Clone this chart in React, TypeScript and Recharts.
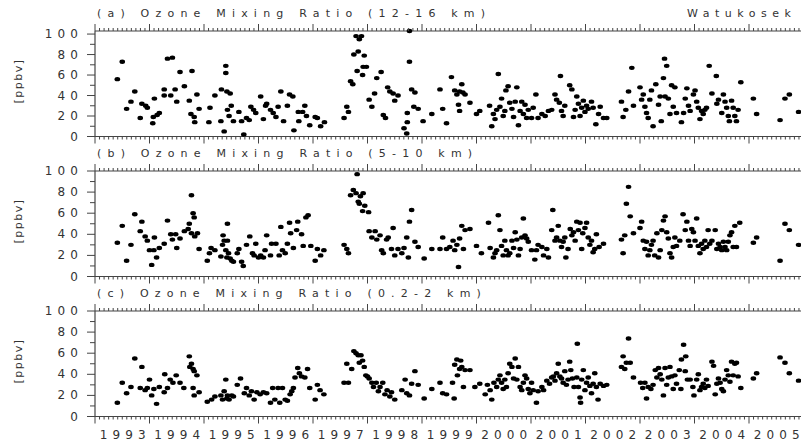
import React from 'react';
import { ScatterChart, Scatter, XAxis, YAxis } from 'recharts';

// ---------- data ----------
const yearLabels = ['1993','1994','1995','1996','1997','1998','1999','2000','2001','2002','2003','2004','2005'];
const yTicks = [0, 10, 20, 30, 40, 50, 60, 70, 80, 90, 100];
const panelTitles = ['(a) Ozone Mixing Ratio (12-16 km)', '(b) Ozone Mixing Ratio (5-10 km)', '(c) Ozone Mixing Ratio (0.2-2 km)'];
const stationName = 'Watukosek';
const unitLabel = '[ppbv]';

// [decimal year, ozone ppbv]
const ozone12to16: [number, number][] = [
  [1993.41,56],[1993.50,73],[1993.58,27],[1993.66,34],[1993.73,44],[1993.83,18],[1993.86,32],[1993.93,30],[1993.96,28],
  [1994.06,13],[1994.07,19],[1994.09,37],[1994.14,21],[1994.18,23],[1994.27,46],[1994.27,40],[1994.33,76],[1994.39,40],
  [1994.42,77],[1994.47,46],[1994.50,34],[1994.56,63],[1994.64,49],[1994.73,35],[1994.76,22],[1994.78,64],[1994.82,19],
  [1994.83,14],[1994.87,41],[1994.91,27],[1995.09,14],[1995.11,28],[1995.20,40],[1995.32,46],[1995.31,15],[1995.37,5],
  [1995.40,69],[1995.40,62],[1995.42,44],[1995.43,26],[1995.46,20],[1995.48,42],[1995.50,30],[1995.54,15],[1995.64,24],
  [1995.69,15],[1995.73,2],[1995.78,18],[1995.83,16],[1995.86,29],[1995.91,26],[1995.95,23],[1996.04,39],[1996.09,17],
  [1996.13,30],[1996.15,32],[1996.22,26],[1996.27,23],[1996.32,19],[1996.36,29],[1996.41,44],[1996.46,15],[1996.53,30],
  [1996.57,41],[1996.63,39],[1996.65,6],[1996.73,24],[1996.74,15],[1996.81,24],[1996.85,30],[1996.88,20],[1996.94,11],
  [1997.04,19],[1997.08,18],[1997.14,10],[1997.21,14],[1997.57,18],[1997.62,29],[1997.65,24],[1997.69,54],[1997.73,51],
  [1997.75,80],[1997.79,98],[1997.83,83],[1997.81,64],[1997.85,95],[1997.89,98],[1997.91,60],[1997.92,68],[1997.94,79],
  [1997.98,68],[1998.03,36],[1998.08,29],[1998.13,42],[1998.17,57],[1998.25,63],[1998.29,21],[1998.33,18],[1998.37,48],
  [1998.41,44],[1998.47,42],[1998.50,35],[1998.56,40],
  [1998.77,103],[1998.77,73],[1998.67,8],[1998.72,3],[1998.73,14],[1998.73,23],[1998.81,46],[1998.87,43],[1998.85,29],
  [1998.93,27],[1999.02,15],[1999.18,22],[1999.33,46],[1999.38,27],[1999.45,13],[1999.54,58],[1999.60,45],[1999.64,41],
  [1999.69,44],[1999.73,51],[1999.75,43],[1999.79,41],[1999.67,31],[1999.69,25],[1999.88,33],[2000.00,22],[2000.06,25],
  [2000.24,30],[2000.28,10],[2000.31,22],[2000.34,17],[2000.37,26],[2000.40,61],[2000.43,29],[2000.46,37],[2000.49,20],
  [2000.52,25],[2000.54,45],[2000.58,49],[2000.61,33],[2000.65,27],[2000.68,19],[2000.71,34],[2000.74,48],[2000.77,11],
  [2000.80,25],[2000.83,34],[2000.86,22],[2000.89,31],[2000.92,18],[2000.95,26],[2001.01,18],[2001.04,28],[2001.09,41],
  [2001.13,18],[2001.20,22],[2001.26,20],[2001.32,25],[2001.38,26],[2001.44,41],[2001.47,36],[2001.52,33],[2001.54,59],
  [2001.56,25],[2001.59,20],[2001.62,30],[2001.71,50],[2001.75,46],[2001.78,19],[2001.81,26],[2001.84,39],[2001.87,32],
  [2001.90,20],[2001.93,28],[2001.96,35],[2001.99,24],[2002.02,30],[2002.05,27],[2002.11,34],[2002.14,28],[2002.19,12],
  [2002.24,22],[2002.27,29],[2002.33,18],[2002.39,18],[2002.66,34],[2002.69,19],[2002.74,26],[2002.79,44],[2002.85,67],
  [2002.88,30],[2003.00,48],[2003.03,36],[2003.06,41],[2003.09,29],[2003.12,23],[2003.15,18],[2003.18,36],[2003.21,45],
  [2003.24,10],[2003.29,51],[2003.34,31],[2003.37,39],[2003.39,15],[2003.43,57],[2003.45,76],[2003.49,69],[2003.46,39],
  [2003.52,37],[2003.55,22],[2003.58,50],[2003.61,29],[2003.64,48],[2003.67,23],[2003.76,14],[2003.80,23],[2003.83,37],
  [2003.86,47],[2003.89,30],[2003.92,25],[2003.98,41],[2004.01,45],[2004.04,34],[2004.07,28],[2004.10,17],[2004.13,25],
  [2004.16,22],[2004.19,26],[2004.22,28],[2004.27,69],[2004.32,42],[2004.40,59],[2004.41,32],[2004.44,36],[2004.50,23],
  [2004.53,41],[2004.56,34],[2004.59,28],[2004.62,20],[2004.64,15],[2004.68,35],[2004.71,28],[2004.74,20],[2004.77,15],
  [2004.80,26],[2004.85,53],[2005.08,37],[2005.14,22],[2005.57,16],[2005.66,37],[2005.74,41],[2005.91,24],
];

const ozone5to10: [number, number][] = [
  [1993.41,32],[1993.50,48],[1993.58,15],[1993.66,30],[1993.73,59],[1993.83,43],[1993.86,52],[1993.92,38],[1993.96,34],
  [1994.00,25],[1994.04,11],[1994.08,25],[1994.09,37],[1994.13,18],[1994.18,27],[1994.27,31],[1994.33,53],[1994.39,40],
  [1994.42,35],[1994.48,40],[1994.50,27],[1994.56,36],[1994.64,43],[1994.71,45],[1994.73,50],[1994.77,77],[1994.80,60],
  [1994.82,56],[1994.77,41],[1994.83,38],[1994.88,41],[1994.91,26],[1995.06,15],[1995.10,22],[1995.13,27],[1995.20,25],
  [1995.31,19],[1995.34,30],[1995.35,39],[1995.37,34],[1995.40,25],[1995.42,18],[1995.43,50],[1995.45,22],[1995.43,34],
  [1995.48,17],[1995.51,15],[1995.54,14],[1995.61,22],[1995.64,26],[1995.69,14],[1995.72,10],[1995.78,30],[1995.84,38],
  [1995.89,22],[1995.92,20],[1995.95,31],[1996.00,18],[1996.04,20],[1996.09,18],[1996.12,25],[1996.15,39],[1996.22,20],
  [1996.24,31],[1996.32,31],[1996.38,20],[1996.41,47],[1996.44,25],[1996.49,22],[1996.53,31],[1996.57,51],[1996.59,41],
  [1996.64,27],[1996.70,44],[1996.72,52],[1996.79,40],[1996.82,29],[1996.87,56],[1996.91,58],[1996.96,29],[1997.04,15],
  [1997.08,26],[1997.14,20],[1997.20,25],[1997.57,30],[1997.62,26],[1997.65,22],[1997.69,77],[1997.74,82],[1997.79,79],
  [1997.81,97],[1997.83,71],[1997.85,69],[1997.87,76],[1997.91,62],[1997.92,79],[1997.95,67],[1998.02,61],[1998.03,43],
  [1998.08,37],[1998.14,43],[1998.17,35],[1998.23,39],[1998.26,25],[1998.29,22],[1998.35,35],[1998.38,37],[1998.44,26],
  [1998.47,46],[1998.50,20],[1998.56,26],
  [1998.63,22],[1998.67,27],[1998.72,37],[1998.77,52],[1998.81,63],[1998.75,18],[1998.87,33],[1998.93,28],[1999.04,17],
  [1999.18,26],[1999.33,26],[1999.38,37],[1999.45,26],[1999.51,28],[1999.57,34],[1999.60,25],[1999.64,30],[1999.67,9],
  [1999.69,36],[1999.73,48],[1999.76,26],[1999.79,44],[1999.88,45],[2000.00,29],[2000.09,22],[2000.22,51],[2000.25,27],
  [2000.31,18],[2000.34,22],[2000.37,25],[2000.40,58],[2000.43,44],[2000.46,29],[2000.49,20],[2000.52,34],[2000.55,25],
  [2000.58,20],[2000.61,22],[2000.65,34],[2000.68,27],[2000.71,42],[2000.74,35],[2000.77,20],[2000.80,26],[2000.83,37],
  [2000.86,55],[2000.89,39],[2000.92,36],[2000.95,33],[2001.01,25],[2001.07,16],[2001.10,25],[2001.13,30],[2001.20,28],
  [2001.23,20],[2001.29,26],[2001.32,18],[2001.38,44],[2001.40,63],[2001.44,34],[2001.47,37],[2001.50,48],[2001.53,34],
  [2001.56,28],[2001.59,33],[2001.62,37],[2001.64,18],[2001.68,26],[2001.72,45],[2001.75,39],[2001.78,42],[2001.81,34],
  [2001.84,52],[2001.87,44],[2001.90,51],[2001.93,26],[2001.95,41],[2001.99,46],[2002.02,51],[2002.05,37],[2002.08,30],
  [2002.11,34],[2002.14,23],[2002.17,26],[2002.20,40],[2002.25,28],[2002.33,31],[2002.66,35],[2002.69,22],[2002.72,39],
  [2002.75,69],[2002.79,85],[2002.82,57],[2002.88,41],[2003.00,46],[2003.03,52],[2003.06,34],[2003.09,26],[2003.12,33],
  [2003.15,20],[2003.18,25],[2003.21,30],[2003.24,34],[2003.27,20],[2003.31,41],[2003.34,18],[2003.37,25],[2003.40,44],
  [2003.43,53],[2003.46,57],[2003.49,42],[2003.52,36],[2003.55,22],[2003.58,18],[2003.61,28],[2003.64,37],[2003.67,29],
  [2003.73,34],[2003.79,59],[2003.83,44],[2003.86,52],[2003.89,34],[2003.92,29],[2003.95,45],[2003.98,42],[2004.01,34],
  [2004.04,55],[2004.07,29],[2004.10,22],[2004.13,31],[2004.16,26],[2004.19,34],[2004.22,28],[2004.25,44],[2004.28,31],
  [2004.32,34],[2004.38,44],[2004.41,26],[2004.44,31],[2004.47,28],[2004.50,25],[2004.53,33],[2004.56,28],[2004.59,25],
  [2004.62,33],[2004.65,39],[2004.68,42],[2004.71,28],[2004.74,48],[2004.77,28],[2004.83,51],[2005.08,32],[2005.14,37],
  [2005.57,15],[2005.66,50],[2005.74,44],[2005.91,30],
];

const ozone02to2: [number, number][] = [
  [1993.41,13],[1993.50,32],[1993.58,22],[1993.66,28],[1993.73,55],[1993.83,27],[1993.86,47],[1993.92,25],[1993.96,27],
  [1994.00,35],[1994.04,20],[1994.08,26],[1994.13,12],[1994.18,28],[1994.27,23],[1994.28,40],[1994.33,27],[1994.38,35],
  [1994.43,32],[1994.49,39],[1994.56,32],[1994.63,27],[1994.73,57],[1994.74,47],[1994.77,50],[1994.80,45],[1994.82,43],
  [1994.87,39],[1994.80,27],[1994.82,20],[1994.91,23],[1995.06,14],[1995.14,16],[1995.20,19],[1995.31,20],[1995.34,16],
  [1995.37,24],[1995.40,35],[1995.42,17],[1995.43,20],[1995.46,16],[1995.51,20],[1995.54,19],[1995.61,30],[1995.67,36],
  [1995.74,22],[1995.78,27],[1995.83,20],[1995.87,24],[1995.92,16],[1995.97,23],[1996.03,21],[1996.09,23],[1996.15,22],
  [1996.22,13],[1996.26,27],[1996.30,16],[1996.36,27],[1996.39,13],[1996.44,27],[1996.49,16],[1996.53,15],[1996.58,21],
  [1996.61,24],[1996.64,27],[1996.67,37],[1996.72,46],[1996.75,41],[1996.79,38],[1996.85,37],[1996.90,45],[1996.94,27],
  [1997.04,16],[1997.08,30],[1997.13,25],[1997.20,21],[1997.57,32],[1997.62,50],[1997.65,32],[1997.71,45],[1997.75,62],
  [1997.79,60],[1997.83,58],[1997.85,51],[1997.88,58],[1997.91,53],[1997.94,47],[1997.97,39],[1998.00,38],[1998.03,36],
  [1998.08,32],[1998.11,28],[1998.16,32],[1998.20,24],[1998.23,28],[1998.28,32],[1998.32,21],[1998.36,25],[1998.41,19],
  [1998.44,23],[1998.50,16],
  [1998.63,25],[1998.69,35],[1998.72,22],[1998.77,20],[1998.81,31],[1998.87,43],[1998.93,30],[1999.04,17],[1999.18,26],
  [1999.33,32],[1999.38,22],[1999.45,21],[1999.56,32],[1999.59,17],[1999.60,49],[1999.64,54],[1999.65,39],[1999.69,45],
  [1999.71,53],[1999.73,47],[1999.76,28],[1999.79,44],[1999.88,44],[1999.97,28],[2000.06,31],[2000.16,21],[2000.20,30],
  [2000.25,25],[2000.28,16],[2000.32,32],[2000.37,28],[2000.40,35],[2000.43,39],[2000.46,32],[2000.49,26],[2000.52,35],
  [2000.55,28],[2000.58,41],[2000.61,50],[2000.65,47],[2000.68,36],[2000.71,55],[2000.74,35],[2000.77,47],[2000.80,28],
  [2000.83,25],[2000.86,32],[2000.89,39],[2000.92,36],[2000.95,26],[2000.98,22],[2001.01,32],[2001.04,25],[2001.10,13],
  [2001.13,24],[2001.20,28],[2001.23,25],[2001.29,34],[2001.34,31],[2001.38,37],[2001.41,38],[2001.44,34],[2001.47,41],
  [2001.50,50],[2001.53,38],[2001.56,36],[2001.59,32],[2001.62,43],[2001.65,30],[2001.68,35],[2001.71,52],[2001.73,44],
  [2001.76,36],[2001.79,28],[2001.84,37],[2001.85,69],[2001.87,28],[2001.90,18],[2001.91,13],[2001.93,35],[2001.96,44],
  [2001.99,25],[2002.02,32],[2002.05,37],[2002.08,29],[2002.11,22],[2002.14,31],[2002.17,41],[2002.20,28],[2002.23,16],
  [2002.27,31],[2002.33,29],[2002.39,30],[2002.66,47],[2002.69,57],[2002.72,45],[2002.75,51],[2002.79,74],[2002.82,51],
  [2002.88,37],[2003.01,32],[2003.05,27],[2003.09,32],[2003.12,17],[2003.15,28],[2003.20,26],[2003.24,30],[2003.28,44],
  [2003.31,37],[2003.34,46],[2003.37,40],[2003.40,35],[2003.43,20],[2003.46,46],[2003.49,30],[2003.52,37],[2003.55,47],
  [2003.58,38],[2003.61,26],[2003.64,39],[2003.67,31],[2003.72,44],[2003.75,26],[2003.76,54],[2003.80,68],[2003.83,43],
  [2003.84,57],[2003.87,35],[2003.92,35],[2003.97,28],[2003.99,20],[2004.04,35],[2004.07,40],[2004.10,25],[2004.13,28],
  [2004.16,31],[2004.19,27],[2004.22,35],[2004.25,29],[2004.32,52],[2004.35,48],[2004.38,21],[2004.41,31],[2004.44,36],
  [2004.47,32],[2004.50,26],[2004.53,24],[2004.56,35],[2004.59,44],[2004.62,39],[2004.65,33],[2004.68,52],[2004.71,39],
  [2004.74,50],[2004.77,51],[2004.80,38],[2004.85,27],[2005.08,36],[2005.14,41],[2005.57,56],[2005.66,51],[2005.74,41],
  [2005.91,34],
];

const panelSeries = [ozone12to16, ozone5to10, ozone02to2];

// ---------- layout ----------
const START_YEAR = 1993;
const END_YEAR = 2006;
const monthTicks = Array.from({ length: (END_YEAR - START_YEAR) * 12 + 1 }, (_, i) => START_YEAR + i / 12);
const PLOT_TOPS = [31, 171, 311];
const PLOT_H = 105.5;
const TOP_AXIS_H = 20;
const BOTTOM_AXIS_H = 30;
const CHART_W = 810;
const FONT = '"DejaVu Sans", sans-serif';
const INK = '#333';
const AXIS = '#444';
const LS = 5.2;

const makeXTick = (side: 'top' | 'bottom', showLabels: boolean) => (props: any) => {
  const { x, y, payload } = props;
  const m = Math.round((payload.value - START_YEAR) * 12);
  const major = m % 12 === 0;
  const len = major ? 7 : 3;
  const dir = side === 'top' ? -1 : 1;
  const label = showLabels && m % 12 === 6 ? yearLabels[Math.floor(m / 12)] : null;
  return (
    <g>
      <line x1={x} x2={x} y1={y} y2={y + dir * len} stroke={AXIS} strokeWidth={1} />
      {label && (
        <text x={x + 0.5} y={y + 18} textAnchor="middle" dominantBaseline="central"
          fontSize={12} fill={INK} textLength={46} lengthAdjust="spacing" style={{ fontFamily: FONT }}>
          {label}
        </text>
      )}
    </g>
  );
};

const YTick = (props: any) => {
  const { x, y, payload } = props;
  const v = payload.value;
  const major = v % 20 === 0;
  return (
    <g>
      <line x1={x} x2={x - (major ? 8 : 5)} y1={y} y2={y} stroke={AXIS} strokeWidth={1} />
      {major && (
        <text x={x - 17 + LS} y={y} textAnchor="end" dominantBaseline="central"
          fontSize={12} fill={INK} style={{ letterSpacing: `${LS}px`, fontFamily: FONT }}>
          {v}
        </text>
      )}
    </g>
  );
};

const Dot = (props: any) => {
  const { cx, cy } = props;
  if (cx == null || cy == null) return null;
  return <ellipse cx={cx} cy={cy} rx={2.8} ry={2.2} fill="#000" />;
};

function Panel({ idx }: { idx: number }) {
  const data = panelSeries[idx].map(([t, v]) => ({ t, v }));
  const isLast = idx === 2;
  const top = PLOT_TOPS[idx] - TOP_AXIS_H;
  return (
    <div style={{ position: 'absolute', left: 0, top }}>
      <ScatterChart width={CHART_W} height={TOP_AXIS_H + PLOT_H + BOTTOM_AXIS_H}
        margin={{ top: 0, right: CHART_W - 95 - 708.5, bottom: 0, left: 0 }}>
        <XAxis xAxisId="bottom" dataKey="t" type="number" domain={[START_YEAR, END_YEAR]} ticks={monthTicks}
          interval={0} orientation="bottom" height={BOTTOM_AXIS_H} tickSize={0} tickMargin={0}
          tick={makeXTick('bottom', isLast)} axisLine={{ stroke: AXIS, strokeWidth: 1.2 }} allowDataOverflow />
        <XAxis xAxisId="top" dataKey="t" type="number" domain={[START_YEAR, END_YEAR]} ticks={monthTicks}
          interval={0} orientation="top" height={TOP_AXIS_H} tickSize={0} tickMargin={0}
          tick={makeXTick('top', false)} axisLine={{ stroke: AXIS, strokeWidth: 1.2 }} allowDataOverflow />
        <YAxis dataKey="v" type="number" domain={[0, 100]} ticks={yTicks} interval={0} width={95}
          tickSize={0} tickMargin={0} tick={YTick} axisLine={{ stroke: AXIS, strokeWidth: 1.2 }} />
        <Scatter data={data} xAxisId="bottom" shape={Dot} isAnimationActive={false} />
      </ScatterChart>
    </div>
  );
}

export default function App() {
  const textStyle: React.CSSProperties = {
    position: 'absolute', fontFamily: FONT, fontSize: 11, color: INK, letterSpacing: '6.2px', whiteSpace: 'nowrap', lineHeight: '12px',
  };
  return (
    <div style={{ position: 'absolute', left: 0, top: 0, width: 801, height: 444, overflow: 'hidden', background: '#fff' }}>
      {[0, 1, 2].map((i) => <Panel key={i} idx={i} />)}
      {panelTitles.map((t, i) => (
        <div key={t} style={{ ...textStyle, left: 97, top: PLOT_TOPS[i] - 23 }}>{t}</div>
      ))}
      <div style={{ ...textStyle, left: 687, top: PLOT_TOPS[0] - 23, letterSpacing: '5.5px' }}>{stationName}</div>
      {PLOT_TOPS.map((t, i) => (
        <div key={i} style={{
          position: 'absolute', left: 19, top: t + PLOT_H / 2 - 3, transform: 'translate(-50%, -50%) rotate(-90deg)',
          fontFamily: FONT, fontSize: 11, color: INK, letterSpacing: '1.5px', whiteSpace: 'nowrap', lineHeight: '12px',
        }}>{unitLabel}</div>
      ))}
    </div>
  );
}
